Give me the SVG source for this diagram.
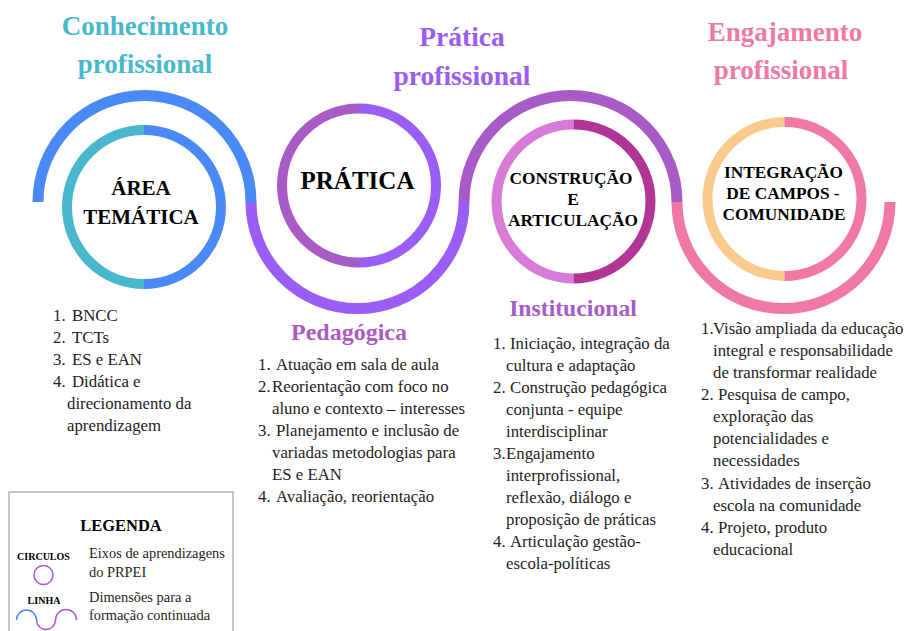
<svg xmlns="http://www.w3.org/2000/svg" width="908" height="631" viewBox="0 0 908 631">
<style>
.t{font-family:"Liberation Serif","Times New Roman",serif;font-weight:bold;text-anchor:middle}
.ct{font-family:"Liberation Serif","Times New Roman",serif;font-weight:bold;text-anchor:middle;fill:#000}
.li{font-family:"Liberation Serif","Times New Roman",serif;font-size:16.8px;fill:#1e1e1e}
.wave{fill:none;stroke-width:11}
.ring{fill:none;stroke-width:10}
</style>
<rect width="908" height="631" fill="#fff"/>

<g id="connectors">
<path class="wave" stroke="#4A8AF7" d="M38,202 A106.5,106.5 0 0 1 251,202"/>
<path class="wave" stroke="#9A5DF6" d="M251,202 A106.5,106.5 0 0 0 464,202"/>
<path class="wave" stroke="#A85AC6" d="M464,202 A106.5,106.5 0 0 1 677,202"/>
<path class="wave" stroke="#EF78A5" d="M677,202 A106.5,106.5 0 0 0 890,202"/>
</g>

<g id="titles">
<text class="t" font-size="27" fill="#48B9CC"><tspan x="145" y="35">Conhecimento</tspan><tspan x="145" y="73">profissional</tspan></text>
<text class="t" font-size="27.5" fill="#9B5CF5"><tspan x="462" y="46">Prática</tspan><tspan x="462" y="85">profissional</tspan></text>
<text class="t" font-size="27" fill="#EE79A4"><tspan x="785" y="41">Engajamento</tspan><tspan x="781" y="79">profissional</tspan></text>
</g>

<g id="node-area-tematica">
<path class="ring" stroke="#48B6CC" d="M144,130 A77,77 0 0 0 144,284"/>
<path class="ring" stroke="#4A8AF7" d="M144,130 A77,77 0 0 1 144,284"/>
<text class="ct" font-size="21"><tspan x="141" y="195">ÁREA</tspan><tspan x="141" y="224">TEMÁTICA</tspan></text>
</g>

<g id="node-pratica">
<path class="ring" stroke="#A85AC6" d="M359,108.5 A77,77 0 0 0 359,262.5"/>
<path class="ring" stroke="#9A5DF6" d="M359,108.5 A77,77 0 0 1 359,262.5"/>
<text class="ct" font-size="25" x="357.5" y="189">PRÁTICA</text>
</g>

<g id="node-construcao">
<path class="ring" stroke="#D77AD8" d="M573.5,124.5 A77,77 0 0 0 573.5,278.5"/>
<path class="ring" stroke="#B13594" d="M573.5,124.5 A77,77 0 0 1 573.5,278.5"/>
<text class="ct" font-size="17.3"><tspan x="571" y="184">CONSTRUÇÃO</tspan><tspan x="573" y="205">E</tspan><tspan x="573" y="226">ARTICULAÇÃO</tspan></text>
</g>

<g id="node-integracao">
<path class="ring" stroke="#F9CA8B" d="M784.5,122 A77,77 0 0 0 784.5,276"/>
<path class="ring" stroke="#EF78A5" d="M784.5,122 A77,77 0 0 1 784.5,276"/>
<text class="ct" font-size="17.3"><tspan x="783.5" y="178">INTEGRAÇÃO</tspan><tspan x="783" y="199">DE CAMPOS -</tspan><tspan x="784" y="220">COMUNIDADE</tspan></text>
</g>

<g id="subtitles">
<text class="t" font-size="24" fill="#A95BC6" x="349" y="340">Pedagógica</text>
<text class="t" font-size="23.7" fill="#A95BC6" x="573" y="316">Institucional</text>
</g>

<g id="list-conhecimento">
<text class="li" y="321"><tspan x="53">1.</tspan><tspan x="72">BNCC</tspan></text>
<text class="li" y="343"><tspan x="53">2.</tspan><tspan x="72">TCTs</tspan></text>
<text class="li" y="365"><tspan x="53">3.</tspan><tspan x="72">ES e EAN</tspan></text>
<text class="li" y="387"><tspan x="53">4.</tspan><tspan x="72">Didática e</tspan></text>
<text class="li" x="67" y="409">direcionamento da</text>
<text class="li" x="67" y="431">aprendizagem</text>
</g>

<g id="list-pedagogica">
<text class="li" y="370"><tspan x="258">1.</tspan><tspan x="276">Atuação em sala de aula</tspan></text>
<text class="li" y="392"><tspan x="258">2.</tspan><tspan x="272">Reorientação com foco no</tspan></text>
<text class="li" x="272" y="414">aluno e contexto – interesses</text>
<text class="li" y="436"><tspan x="258">3.</tspan><tspan x="276">Planejamento e inclusão de</tspan></text>
<text class="li" x="272" y="458">variadas metodologias para</text>
<text class="li" x="272" y="480">ES e EAN</text>
<text class="li" y="502"><tspan x="258">4.</tspan><tspan x="276">Avaliação, reorientação</tspan></text>
</g>

<g id="list-institucional">
<text class="li" y="349"><tspan x="493">1.</tspan><tspan x="510">Iniciação, integração da</tspan></text>
<text class="li" x="506" y="371">cultura e adaptação</text>
<text class="li" y="393"><tspan x="493">2.</tspan><tspan x="510">Construção pedagógica</tspan></text>
<text class="li" x="506" y="415">conjunta - equipe</text>
<text class="li" x="506" y="437">interdisciplinar</text>
<text class="li" y="459"><tspan x="493">3.</tspan><tspan x="506">Engajamento</tspan></text>
<text class="li" x="506" y="481">interprofissional,</text>
<text class="li" x="506" y="503">reflexão, diálogo e</text>
<text class="li" x="506" y="525">proposição de práticas</text>
<text class="li" y="547"><tspan x="493">4.</tspan><tspan x="510">Articulação gestão-</tspan></text>
<text class="li" x="506" y="569">escola-políticas</text>
</g>

<g id="list-engajamento">
<text class="li" y="334"><tspan x="701">1.</tspan><tspan x="713">Visão ampliada da educação</tspan></text>
<text class="li" x="713" y="356">integral e responsabilidade</text>
<text class="li" x="713" y="378">de transformar realidade</text>
<text class="li" y="400"><tspan x="701">2.</tspan><tspan x="718">Pesquisa de campo,</tspan></text>
<text class="li" x="713" y="422">exploração das</text>
<text class="li" x="713" y="444">potencialidades e</text>
<text class="li" x="713" y="466">necessidades</text>
<text class="li" y="489"><tspan x="701">3.</tspan><tspan x="718">Atividades de inserção</tspan></text>
<text class="li" x="713" y="511">escola na comunidade</text>
<text class="li" y="533"><tspan x="701">4.</tspan><tspan x="718">Projeto, produto</tspan></text>
<text class="li" x="713" y="555">educacional</text>
</g>

<g id="legend">
<rect x="9" y="492" width="224" height="150" fill="#fff" stroke="#b4b4b4" stroke-width="1.5"/>
<text class="ct" font-size="16.5" x="121" y="531">LEGENDA</text>
<text class="ct" font-size="10" x="43.5" y="560">CIRCULOS</text>
<circle cx="43.5" cy="575" r="9.5" fill="none" stroke="#A35CE0" stroke-width="1.5"/>
<text class="ct" font-size="10" x="44" y="604">LINHA</text>
<path d="M16.5,620 A10,10 0 0 1 36.5,620" fill="none" stroke="#4A8AF7" stroke-width="1.5"/>
<path d="M36.5,620 A9.5,9.5 0 0 0 55.5,620 A10.5,10.5 0 0 1 76.5,620" fill="none" stroke="#A35CE0" stroke-width="1.5"/>
<text class="li" font-size="14.4" x="89" y="558" style="font-size:14.4px">Eixos de aprendizagens</text>
<text class="li" x="89" y="577" style="font-size:14.4px">do PRPEI</text>
<text class="li" x="89" y="602" style="font-size:14.4px">Dimensões para a</text>
<text class="li" x="89" y="620" style="font-size:14.4px">formação continuada</text>
</g>
</svg>
